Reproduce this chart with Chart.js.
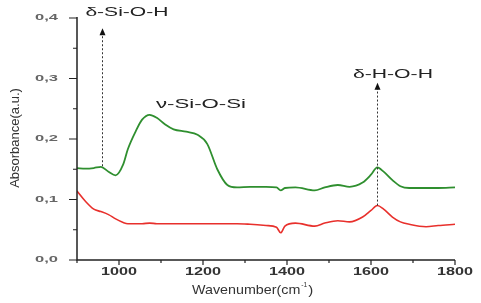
<!DOCTYPE html>
<html>
<head>
<meta charset="utf-8">
<script src="https://cdn.jsdelivr.net/npm/chart.js@4.4.0/dist/chart.umd.min.js"></script>
<style>
  html, body { margin: 0; padding: 0; background: #fff; }
  #wrap { width: 481px; height: 303px; }
</style>
</head>
<body>
<div id="wrap"><canvas id="ftir"></canvas></div>
<script>
// FTIR spectra, absorbance vs wavenumber

const wavenumbers = [900, 920, 940, 957, 975, 992, 1010, 1021, 1040, 1055, 1073, 1090, 1110, 1130, 1160, 1187,
  1210, 1234, 1258, 1281, 1312, 1350, 1375, 1385, 1395, 1420, 1466, 1490, 1521, 1549, 1580, 1600, 1615,
  1630, 1651, 1670, 1691, 1731, 1760, 1800];

const greenAbs = [0.152, 0.151, 0.152, 0.154, 0.146, 0.140, 0.158, 0.183, 0.213, 0.232, 0.240, 0.235, 0.224, 0.216, 0.212, 0.207,
  0.192, 0.150, 0.124, 0.120, 0.121, 0.121, 0.120, 0.115, 0.119, 0.120, 0.115, 0.120, 0.124, 0.121, 0.128, 0.141, 0.153,
  0.146, 0.132, 0.122, 0.119, 0.119, 0.119, 0.120];

const redAbs = [0.114, 0.097, 0.084, 0.080, 0.075, 0.068, 0.062, 0.060, 0.060, 0.060, 0.061, 0.060, 0.060, 0.060, 0.060, 0.060,
  0.060, 0.060, 0.060, 0.060, 0.059, 0.057, 0.054, 0.045, 0.056, 0.061, 0.056, 0.061, 0.065, 0.063, 0.071, 0.082, 0.090,
  0.084, 0.071, 0.063, 0.059, 0.055, 0.057, 0.059];

// band labels: text, left edge (wavenumber), middle (absorbance)
const bandLabels = ['\u03b4-Si-O-H', '\u03bd-Si-O-Si', '\u03b4-H-O-H'];
const bandLabelX = [920, 1088, 1557];
const bandLabelY = [0.408, 0.257, 0.306];

// dotted arrows: wavenumber, from, to (tip)
const arrowX = [960, 1615];
const arrowFrom = [0.155, 0.090];
const arrowTo = [0.383, 0.293];

const xTicks = [1000, 1200, 1400, 1600, 1800];
const xMinor = [900, 1100, 1300, 1500, 1700];
const yTicks = [0, 0.1, 0.2, 0.3, 0.4];
const yMinor = [0.05, 0.15, 0.25, 0.35];

const toXY = (ys) => wavenumbers.map((w, i) => ({ x: w, y: ys[i] }));

// the source picture is stretched sideways, so text is squeezed to a width
function wideText(c, text, x, y, font, width, align) {
  c.font = font;
  const w = c.measureText(text).width;
  const sx = width / w;
  c.save();
  c.textBaseline = 'middle';
  c.textAlign = 'left';
  let left = x;
  if (align === 'center') left = x - width / 2;
  if (align === 'right') left = x - width;
  c.translate(left, y);
  c.scale(sx, 1);
  c.fillText(text, 0, 0);
  c.restore();
}

const axisPlugin = {
  id: 'axisPlugin',
  afterDraw(chart) {
    const c = chart.ctx;
    const xs = chart.scales.x, ys = chart.scales.y;
    const area = chart.chartArea;
    c.save();
    c.strokeStyle = '#222';
    c.lineWidth = 1.5;
    c.beginPath();
    c.moveTo(area.left, area.top - 1);
    c.lineTo(area.left, area.bottom);
    c.lineTo(area.right, area.bottom);
    c.stroke();
    c.lineWidth = 1.2;
    c.beginPath();
    yTicks.forEach(v => { const p = ys.getPixelForValue(v); c.moveTo(area.left - 8, p); c.lineTo(area.left, p); });
    yMinor.forEach(v => { const p = ys.getPixelForValue(v); c.moveTo(area.left - 4, p); c.lineTo(area.left, p); });
    xTicks.forEach(v => { const p = xs.getPixelForValue(v); c.moveTo(p, area.bottom); c.lineTo(p, area.bottom + 5); });
    xMinor.forEach(v => { const p = xs.getPixelForValue(v); c.moveTo(p, area.bottom); c.lineTo(p, area.bottom + 3); });
    c.stroke();

    // tick labels
    c.fillStyle = '#666';
    yTicks.forEach(v => {
      wideText(c, v.toFixed(1).replace('.', ','), 58, ys.getPixelForValue(v),
        'bold 9px "Liberation Sans", Arial, sans-serif', 23, 'right');
    });
    c.fillStyle = '#333';
    xTicks.forEach(v => {
      wideText(c, String(v), xs.getPixelForValue(v), 272,
        'bold 10px "Liberation Sans", Arial, sans-serif', 36, 'center');
    });

    // dotted arrows
    c.strokeStyle = '#333';
    c.fillStyle = '#111';
    c.lineWidth = 1;
    c.setLineDash([2, 2]);
    arrowX.forEach((w, i) => {
      const px = Math.round(xs.getPixelForValue(w)) + 0.5;
      const y0 = ys.getPixelForValue(arrowFrom[i]);
      const y1 = ys.getPixelForValue(arrowTo[i]);
      c.beginPath();
      c.moveTo(px, y0);
      c.lineTo(px, y1 + 5);
      c.stroke();
      c.beginPath();
      c.moveTo(px, y1);
      c.lineTo(px - 3, y1 + 7);
      c.lineTo(px + 3, y1 + 7);
      c.closePath();
      c.fill();
    });
    c.setLineDash([]);

    // band labels
    c.fillStyle = '#222';
    const bandWidths = [83, 90, 80];
    bandLabels.forEach((t, i) => {
      wideText(c, t, xs.getPixelForValue(bandLabelX[i]), ys.getPixelForValue(bandLabelY[i]),
        '12px "Liberation Sans", Arial, sans-serif', bandWidths[i], 'left');
    });

    // axis titles
    c.fillStyle = '#333';
    const f = '13px "Liberation Sans", Arial, sans-serif';
    c.font = f;
    const base = 'Wavenumber(cm';
    const wb = c.measureText(base).width * 1.1;
    wideText(c, base, 192, 290, f, wb, 'left');
    wideText(c, '-1', 192 + wb + 1, 285, '8px "Liberation Sans", Arial, sans-serif', 6, 'left');
    wideText(c, ')', 192 + wb + 8, 290, f, 5, 'left');

    c.save();
    c.translate(15, 138);
    c.rotate(-Math.PI / 2);
    c.textAlign = 'center';
    c.textBaseline = 'middle';
    c.font = f;
    c.fillText('Absorbance(a.u.)', 0, 0);
    c.restore();
    c.restore();
  }
};

new Chart(document.getElementById('ftir'), {
  type: 'line',
  data: {
    datasets: [
      {
        label: 'green',
        data: toXY(greenAbs),
        borderColor: '#2f8f2f',
        borderWidth: 1.8,
        pointRadius: 0,
        fill: false,
        cubicInterpolationMode: 'monotone'
      },
      {
        label: 'red',
        data: toXY(redAbs),
        borderColor: '#e8302c',
        borderWidth: 1.6,
        pointRadius: 0,
        fill: false,
        cubicInterpolationMode: 'monotone'
      }
    ]
  },
  options: {
    responsive: true,
    maintainAspectRatio: false,
    animation: false,
    layout: { padding: { top: 18, right: 26, left: 0, bottom: 0 } },
    plugins: {
      legend: { display: false },
      tooltip: { enabled: false }
    },
    scales: {
      x: {
        type: 'linear',
        min: 900,
        max: 1800,
        afterFit: (s) => { s.height = 43; },
        afterBuildTicks: (s) => { s.ticks = xTicks.map(v => ({ value: v })); },
        grid: { display: false, drawTicks: false },
        border: { display: false },
        ticks: { display: false }
      },
      y: {
        min: 0,
        max: 0.4,
        afterFit: (s) => { s.width = 77; },
        afterBuildTicks: (s) => { s.ticks = yTicks.map(v => ({ value: v })); },
        grid: { display: false, drawTicks: false },
        border: { display: false },
        ticks: { display: false }
      }
    }
  },
  plugins: [axisPlugin]
});
</script>
</body>
</html>
